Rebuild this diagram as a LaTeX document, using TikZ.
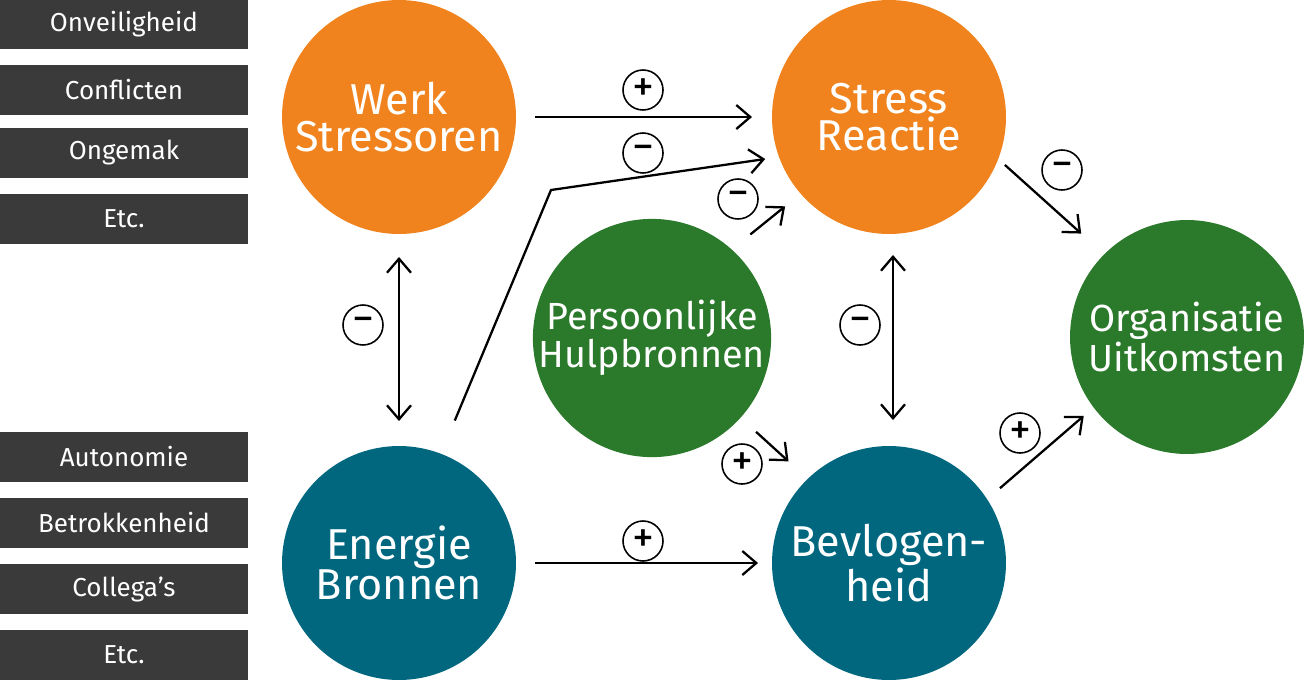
\documentclass[tikz,border=0pt]{standalone}
\usepackage{fontspec}
\setmainfont{Fira Sans}
\usetikzlibrary{arrows.meta}

\definecolor{stressColor}{RGB}{240,131,30}
\definecolor{hulpColor}{RGB}{43,122,43}
\definecolor{energieColor}{RGB}{0,103,127}
\definecolor{labelColor}{RGB}{58,58,58}

\begin{document}
\begin{tikzpicture}[x=0.02cm, y=-0.02cm]
            \tikzset{bol/.style={circle, minimum size=4.68cm, inner sep=0pt, outer sep=0pt, text=white, align=center, font=\fontsize{24.6}{21}\selectfont}}
            \tikzset{lbl/.style={fill=labelColor, minimum width=4.96cm, minimum height=1cm, inner sep=0pt, text=white, font=\fontsize{14.8}{14.8}\selectfont}}
            \tikzset{sgn/.style={draw, circle, line width=0.9pt, minimum size=0.8cm, inner sep=0pt, font=\fontsize{25}{25}\selectfont}}
            \tikzset{pijl/.style={-{Straight Barb[length=0.28cm, width=0.48cm]}, line width=1.3pt}}
            \tikzset{dpijl/.style={{Straight Barb[length=0.28cm, width=0.48cm]}-{Straight Barb[length=0.28cm, width=0.48cm]}, line width=1.3pt}}

            \useasboundingbox (0,0) rectangle (1304,680);

            % labels links
            \node[lbl] (onveilig) at (124,24.5) {Onveiligheid};
            \node[lbl] (conflict) at (124,90) {Conflicten};
            \node[lbl] (ongemak) at (124,153) {Ongemak};
            \node[lbl] (etcA) at (124,218.5) {Etc.};

            \node[lbl] (autonomie) at (124,457) {Autonomie};
            \node[lbl] (betrokken) at (124,523) {Betrokkenheid};
            \node[lbl] (collega) at (124,589) {Collega’s};
            \node[lbl] (etcB) at (124,655) {Etc.};

            % cirkels
            \node[bol, fill=stressColor] (werk) at (399,117) {Werk\\Stressoren};
            \node[bol, fill=stressColor] (stress) at (889,117) {Stress\\Reactie};
            \node[bol, fill=hulpColor, font=\fontsize{21.5}{20.5}\selectfont] (pers) at (652,338) {Persoonlijke\\Hulpbronnen};
            \node[bol, fill=hulpColor, font=\fontsize{21.5}{20.5}\selectfont] (org) at (1187,337) {Organisatie\\Uitkomsten};
            \node[bol, fill=energieColor] (energie) at (399,563) {Energie\\Bronnen};
            \node[bol, fill=energieColor] (bev) at (889,563) {Bevlogen-\\heid};

            \coordinate (knik) at (551,190);

            % pijlen
            \draw[pijl, shorten <=0.38cm, shorten >=0.4cm] (werk) -- (stress);
            \draw[pijl, shorten <=0.72cm, shorten >=0.28cm] (energie.69) -- (knik) -- (stress.200);
            \draw[pijl, shorten <=0.48cm, shorten >=0.4cm] (pers.48) -- (stress.221);
            \draw[pijl, shorten <=0.42cm, shorten >=0.52cm] (pers.-42) -- (bev.134);
            \draw[pijl, shorten <=0.38cm, shorten >=0.28cm] (energie) -- (bev);
            \draw[dpijl, shorten <=0.46cm, shorten >=0.5cm] (werk) -- (energie);
            \draw[dpijl, shorten <=0.42cm, shorten >=0.52cm] ([xshift=0.08cm]stress.south) -- ([xshift=0.08cm]bev.north);
            \draw[pijl, shorten <=0.18cm, shorten >=0.62cm] (stress.-21) -- (org.135);
            \draw[pijl, shorten <=0.34cm, shorten >=0.26cm] (bev.33) -- (org.217);

            % tekens
            \node[sgn] (sgnWS) at (643,90) {+};
            \node[sgn] (sgnES) at (643,153) {−};
            \node[sgn] (sgnPS) at (738,199) {−};
            \node[sgn] (sgnPB) at (742,464) {+};
            \node[sgn] (sgnEB) at (643,541) {+};
            \node[sgn] (sgnWE) at (363,325) {−};
            \node[sgn] (sgnSB) at (860,325) {−};
            \node[sgn] (sgnSO) at (1062,170) {−};
            \node[sgn] (sgnBO) at (1020,433) {+};
        \end{tikzpicture}
\end{document}
